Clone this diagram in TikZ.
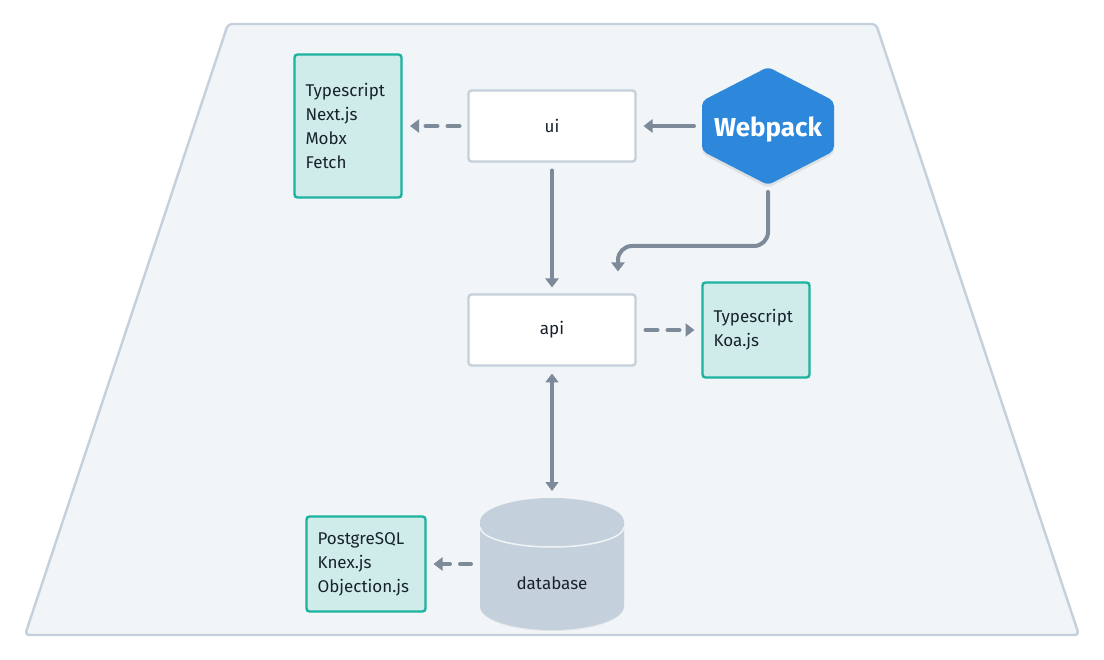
\documentclass[tikz,border=0pt]{standalone}
\usepackage{fontspec}
\setmainfont{Fira Sans}
\usetikzlibrary{arrows.meta}
\definecolor{bgfill}{HTML}{F1F5F8}
\definecolor{edgegrey}{HTML}{C4D0DB}
\definecolor{linkgrey}{HTML}{7C8A99}
\definecolor{tealedge}{HTML}{1CB2A0}
\definecolor{tealfill}{HTML}{CFECEB}
\definecolor{hexblue}{HTML}{2D88DC}
\definecolor{inkdark}{HTML}{18222C}
\newcommand{\techline}[1]{\raisebox{-2.6pt}{#1}}
\tikzset{
  x=1pt,y=-1pt,
  every node/.style={font=\fontsize{17}{24}\selectfont,text=inkdark,outer sep=0pt,inner sep=0pt},
  appbox/.style={draw=edgegrey,fill=white,line width=2.4pt,rounded corners=3pt,minimum width=167pt,minimum height=71pt},
  techbox/.style={draw=tealedge,fill=tealfill,line width=2.4pt,rounded corners=3pt,align=left,anchor=center},
  link/.style={draw=linkgrey,line width=4pt,line cap=round,-{Triangle[length=9pt,width=13pt]}},
  dashlink/.style={link,dash pattern=on 12pt off 10pt},
}
\begin{document}
\begin{tikzpicture}
\useasboundingbox (0,0) rectangle (1104,660);
\fill[white] (0,0) rectangle (1104,660);
\draw[draw=edgegrey,fill=bgfill,line width=2.4pt,rounded corners=4pt,line join=round]
  (228,24) -- (876,24) -- (1079,635) -- (25,635) -- cycle;

% app boxes
\node[appbox] (ui) at (552,126) {ui};
\node[appbox] (api) at (552,330) {api};

% tech boxes
\node[techbox,minimum width=107pt,minimum height=143pt,text width=85pt] (uitech) at (348,126) {\techline{Typescript}\\\techline{Next.js}\\\techline{Mobx}\\\techline{Fetch}};
\node[techbox,minimum width=107pt,minimum height=95pt,text width=85pt] (apitech) at (756,330) {\techline{Typescript}\\\techline{Koa.js}};
\node[techbox,minimum width=119pt,minimum height=95pt,text width=97pt] (dbtech) at (366,564) {\techline{PostgreSQL}\\\techline{Knex.js}\\\techline{Objection.js}};

% hexagon
\fill[black,opacity=.08,rounded corners=5pt] (768,68) -- (702,102) -- (702,154) -- (768,188) -- (834,154) -- (834,102) -- cycle;
\fill[hexblue,rounded corners=5pt] (768,67) -- (702,101) -- (702,151) -- (768,185) -- (834,151) -- (834,101) -- cycle;
\node[minimum width=132pt,minimum height=116pt,font=\fontsize{26}{30}\selectfont\bfseries,text=white] (webpack) at (768,130) {Webpack};

% cylinder
\fill[black,opacity=.06] (480,523) -- (480,607) arc[start angle=180,end angle=360,x radius=72pt,y radius=24pt] -- (624,523) -- cycle;
\fill[edgegrey] (480,522) -- (480,606) arc[start angle=180,end angle=360,x radius=72pt,y radius=24pt] -- (624,522) arc[start angle=0,end angle=180,x radius=72pt,y radius=24pt] -- cycle;
\draw[white,opacity=.75,line width=1.5pt] (480,527) arc[start angle=180,end angle=360,x radius=72pt,y radius=20pt];
\node[minimum width=144pt,minimum height=132pt] (db) at (552,564) {};
\node (dblabel) at (552,583) {database};

% connectors
\draw[dashlink,shorten <=9pt,shorten >=8.5pt] (ui.west) -- (uitech.east);
\draw[link,shorten <=7pt,shorten >=8pt] (webpack.west |- ui.east) ++(-1pt,0) -- (ui.east);
\draw[link,shorten <=9pt,shorten >=7pt] (ui.south) -- (api.north);
\draw[link,rounded corners=14pt,shorten <=4pt] (webpack.south) -- (768,246) -- (618,246) -- (618,271.5);
\draw[link,{Triangle[length=9pt,width=13pt]}-{Triangle[length=9pt,width=13pt]},shorten <=8pt,shorten >=7pt] (api.south) -- (db.north);
\draw[dashlink,shorten <=10pt,shorten >=8pt] (api.east) -- (apitech.west);
\draw[dashlink,dash pattern=on 11pt off 10pt,shorten <=9pt,shorten >=8pt] (db.west |- dbtech.east) -- (dbtech.east);
\end{tikzpicture}
\end{document}
